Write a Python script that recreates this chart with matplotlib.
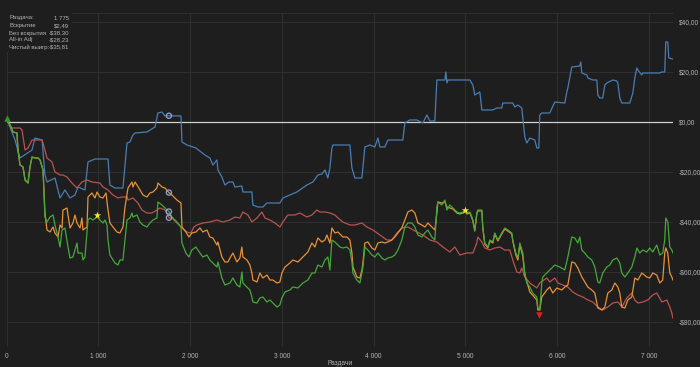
import matplotlib
matplotlib.use("Agg")
import matplotlib.pyplot as plt
from matplotlib.ticker import FixedLocator

plt.rcParams['font.family'] = ['Liberation Sans', 'DejaVu Sans']

# ---------------- data ----------------
blue_x = [0, 16, 93, 147, 278, 310, 387, 419, 441, 528, 583, 637, 692, 746, 779, 855, 888, 964, 1106,
          1127, 1182, 1269, 1291, 1313, 1345, 1378, 1400, 1530, 1618, 1650, 1694, 1727, 1770, 1901, 1912,
          1966, 2064, 2162, 2216, 2249, 2293, 2304, 2347, 2380, 2424, 2467, 2489, 2565, 2576, 2674,
          2685, 2740, 2794, 2838, 2979, 3012, 3088, 3164, 3273, 3339, 3393, 3437, 3470, 3502, 3524,
          3546, 3557, 3742, 3764, 3796, 3873, 3884, 3905, 3960, 4014, 4047, 4069, 4123, 4156, 4319,
          4341, 4395, 4472, 4537, 4581, 4613, 4668, 4690, 4777, 4788, 4799, 4810, 5049, 5082, 5103,
          5158, 5180, 5299, 5343, 5397, 5408, 5517, 5539, 5572, 5615, 5648, 5670, 5703, 5757, 5779,
          5801, 5811, 5833, 5920, 5975, 6084, 6106, 6117, 6160, 6247, 6258, 6269, 6324, 6335, 6389,
          6433, 6444, 6465, 6498, 6520, 6542, 6607, 6651, 6662, 6683, 6705, 6792, 6825, 6847, 6869,
          6880, 6923, 6934, 7119, 7141, 7173, 7184, 7206, 7217, 7262]
blue_y = [0, 0, -7.2, -14.4, -11.2, -6.4, -7.2, -21.2, -24, -22.4, -30.4, -27.2, -30.4, -29.2, -26,
          -27.2, -16, -14.8, -14.8, -25.2, -26.4, -26.4, -17.2, -8.4, -8, -5.2, -4.4, -4, -2, 3.6, 4,
          2.4, 2.49, 2.4, -8, -9.2, -10.4, -13.2, -14.4, -17.2, -15.2, -19.2, -22, -25.2, -24, -24, -26,
          -25.6, -28, -28, -33.2, -34, -34, -32.4, -32.4, -30.4, -29.2, -28, -25.2, -24, -21.2, -20.8,
          -19.2, -22.4, -18.4, -10.4, -9.2, -9.2, -18.4, -22.4, -22.4, -18, -10, -9.2, -10, -6.4, -10,
          -10, -7.2, -7.2, -0.4, 0.8, 0.8, -0.4, 2.8, 0.4, 0.4, 16.8, 16.8, 20, 15.6, 16.8, 16.8, 14.8,
          10.8, 12, 4.8, 4.8, 5.6, 5.6, 7.6, 7.6, 6, 6.8, 5.6, -6, -8.4, -6.4, -7.2, -10.4, -10.4, 2.8,
          3.6, 3.6, 8, 7.6, 12, 13.6, 22, 22.4, 24, 19.6, 18.8, 17.6, 16.8, 16.8, 10.8, 9.6, 9.6, 14.8,
          15.6, 16.8, 16.4, 15.6, 9.6, 7.6, 7.6, 11.6, 17.6, 21.6, 20.8, 18.8, 19.6, 19.6, 20, 20, 32,
          32, 25.6, 25.2]

red_x = [0, 16, 60, 147, 169, 202, 234, 278, 387, 398, 441, 496, 528, 583, 615, 659, 713, 768, 822,
         877, 931, 1018, 1051, 1106, 1160, 1215, 1258, 1313, 1324, 1378, 1432, 1476, 1530, 1585, 1639,
         1672, 1727, 1770, 1803, 1857, 1912, 1966, 2009, 2042, 2075, 2140, 2216, 2293, 2358, 2435,
         2489, 2543, 2576, 2631, 2674, 2729, 2783, 2816, 2870, 2925, 2979, 3012, 3066, 3143, 3197,
         3273, 3328, 3382, 3415, 3470, 3524, 3579, 3600, 3666, 3742, 3796, 3873, 3927, 3993, 4069,
         4145, 4199, 4254, 4308, 4374, 4472, 4537, 4613, 4690, 4755, 4831, 4886, 4940, 5016, 5082,
         5125, 5136, 5180, 5212, 5267, 5321, 5376, 5430, 5485, 5517, 5561, 5594, 5615, 5648, 5703,
         5779, 5811, 5888, 5920, 5975, 6008, 6062, 6117, 6171, 6226, 6280, 6335, 6389, 6444, 6498,
         6553, 6607, 6662, 6705, 6760, 6814, 6847, 6880, 6934, 6988, 7042, 7086, 7141, 7195, 7228,
         7250, 7262]
red_y = [0, 0, -2.4, -2.4, -3.2, -11.2, -10.4, -7.2, -7.2, -8.4, -14.4, -16, -20, -21.2, -21.2, -22,
         -24.4, -26.4, -24, -23.2, -24, -24.4, -26, -27.2, -29.2, -30.4, -30, -30, -31.2, -30.4, -32.4,
         -35.2, -36.4, -36.4, -35.2, -34.4, -35.2, -38.3, -38.4, -40.4, -42.4, -44, -44.4, -42, -41.2,
         -40.4, -40, -39.2, -40, -39.2, -38, -38.4, -36, -37.2, -40, -38.4, -36, -38.4, -39.2, -40.4,
         -42, -40, -37.2, -37.2, -36.4, -38, -37.2, -35.2, -36, -36, -36.4, -37.2, -38, -40, -41.2,
         -41.2, -40.4, -42, -43.2, -45.2, -47.2, -47.2, -44.4, -42.4, -42, -44, -45.2, -47.2, -48,
         -50, -52, -50, -53.2, -52.4, -52.4, -48.4, -46, -48, -50.4, -51.2, -50.4, -50, -51.2, -51.2,
         -55.2, -60, -60.4, -58.4, -62, -64.4, -66.4, -64.4, -62.4, -64, -62.4, -64.4, -65.2, -66,
         -68, -69.2, -70, -71.2, -72, -74, -75.2, -74, -72.4, -72, -74, -70.4, -68.4, -71.2, -72.4,
         -72, -71.2, -69.2, -68.4, -72, -71.2, -74, -76.4, -78.4]

green_x = [0, 16, 38, 71, 114, 125, 147, 180, 202, 234, 256, 278, 310, 343, 365, 398, 419, 441, 474,
           507, 528, 561, 583, 605, 637, 670, 692, 724, 768, 779, 822, 833, 855, 888, 910, 942, 986,
           1018, 1051, 1073, 1095, 1106, 1127, 1182, 1215, 1236, 1269, 1291, 1313, 1345, 1367, 1378,
           1422, 1454, 1487, 1530, 1563, 1596, 1639, 1650, 1694, 1727, 1770, 1803, 1857, 1901, 1912,
           1955, 1988, 2020, 2064, 2108, 2140, 2184, 2216, 2249, 2293, 2304, 2347, 2380, 2435, 2467,
           2511, 2543, 2565, 2576, 2620, 2652, 2674, 2685, 2729, 2761, 2794, 2838, 2870, 2903, 2947,
           2979, 3001, 3034, 3088, 3121, 3175, 3230, 3284, 3328, 3361, 3393, 3437, 3470, 3502, 3524,
           3546, 3579, 3611, 3633, 3666, 3709, 3742, 3764, 3775, 3818, 3851, 3873, 3884, 3905, 3938,
           3982, 4014, 4047, 4091, 4123, 4156, 4199, 4232, 4265, 4308, 4341, 4374, 4417, 4450, 4483,
           4526, 4559, 4592, 4635, 4668, 4690, 4701, 4744, 4777, 4799, 4831, 4864, 4908, 4940, 4973,
           4995, 5016, 5049, 5071, 5082, 5103, 5125, 5136, 5180, 5190, 5212, 5245, 5267, 5299, 5321,
           5354, 5397, 5430, 5463, 5506, 5517, 5550, 5572, 5594, 5626, 5648, 5670, 5703, 5735, 5779,
           5790, 5811, 5833, 5844, 5920, 5975, 6029, 6084, 6117, 6160, 6193, 6226, 6247, 6269, 6302,
           6335, 6378, 6411, 6444, 6465, 6498, 6542, 6575, 6607, 6651, 6683, 6705, 6738, 6771, 6814,
           6847, 6869, 6901, 6934, 6977, 7010, 7042, 7086, 7119, 7151, 7173, 7184, 7206, 7228, 7250,
           7262]
green_y = [0, 0, -1.2, -4, -4.4, -11.2, -17.2, -18, -23.2, -24.4, -18, -14, -14.4, -14.4, -15.2, -19.2,
           -38, -40, -38, -37.2, -41.2, -46, -50, -43.2, -42.4, -50, -54.4, -54, -48.4, -52.4, -52.4,
           -55.2, -54, -39.2, -38.4, -39.2, -38, -39.2, -40.4, -39.2, -41.2, -47.2, -53.2, -56.4,
           -57.2, -55.2, -55.2, -47.2, -39.2, -38.4, -36.4, -38, -37.2, -40, -41.2, -42, -40.4, -39.2,
           -38.4, -32, -33.2, -34.4, -35.81, -38, -40, -42, -48.4, -52.4, -54, -51.2, -50, -52.4, -54,
           -53.2, -55.2, -56.4, -58, -56, -62.4, -65.2, -64.4, -62.4, -65.2, -66, -60, -64.4, -66,
           -67.2, -70, -72, -72.4, -70.4, -70, -72, -71.2, -72.4, -74, -73.2, -70.4, -68, -67.2, -66,
           -66.4, -64.4, -63.2, -60.4, -60.4, -57.2, -58, -55.2, -54, -59.2, -47.2, -48, -49.2, -50,
           -50.4, -50, -51.2, -56, -60.4, -63.2, -64.4, -60.4, -58, -50, -51.2, -53.2, -54, -52.4,
           -54.4, -55.2, -54.4, -54, -53.2, -51.2, -47.2, -42, -40.4, -40.4, -42, -45.2, -46, -44.4,
           -43.2, -46, -47.2, -34, -32, -33.2, -31.2, -35.2, -33.2, -34.4, -36, -36.4, -36, -35.2,
           -36.4, -36, -38, -39.2, -43.2, -36.4, -35.2, -35.2, -42, -48.4, -50, -47.2, -48, -44.4,
           -47.2, -44.4, -42.4, -43.2, -44.4, -47.2, -52.4, -54.4, -48.4, -52.4, -60.4, -64.4, -66,
           -68.4, -70, -74.4, -75.2, -64.4, -62, -59.2, -57.2, -58, -59.2, -54, -46, -46.4, -48.4,
           -46, -51.2, -52.4, -54, -55.2, -58, -64, -64.4, -60.4, -58, -57.2, -55.2, -54.4, -56.4,
           -60.4, -62, -60.4, -58, -54, -50.4, -52.4, -51.2, -52, -50.4, -52, -49.2, -53.2, -52.4,
           -47.2, -38.4, -40, -50, -51.2, -52.4]

orange_x = [0, 16, 38, 71, 114, 125, 147, 180, 202, 234, 256, 278, 310, 343, 365, 398, 419, 441, 474,
            507, 528, 561, 583, 605, 615, 659, 670, 692, 724, 746, 768, 801, 822, 833, 877, 888, 931,
            964, 986, 1018, 1051, 1084, 1106, 1127, 1160, 1204, 1236, 1269, 1291, 1324, 1367, 1378,
            1400, 1422, 1454, 1487, 1530, 1563, 1596, 1639, 1650, 1694, 1727, 1770, 1803, 1857, 1901,
            1912, 1955, 1988, 2020, 2064, 2108, 2140, 2184, 2216, 2249, 2293, 2304, 2347, 2380, 2413,
            2435, 2467, 2511, 2543, 2565, 2576, 2620, 2652, 2674, 2685, 2729, 2761, 2794, 2838, 2870,
            2903, 2947, 2979, 3001, 3034, 3088, 3121, 3175, 3230, 3284, 3328, 3361, 3393, 3437, 3470,
            3491, 3524, 3546, 3579, 3611, 3666, 3709, 3742, 3764, 3775, 3818, 3851, 3873, 3884, 3905,
            3938, 3982, 4014, 4047, 4091, 4123, 4156, 4199, 4232, 4265, 4308, 4341, 4374, 4417, 4450,
            4483, 4526, 4559, 4592, 4635, 4668, 4690, 4701, 4744, 4777, 4799, 4831, 4864, 4908, 4940,
            4973, 4995, 5016, 5049, 5071, 5082, 5103, 5125, 5136, 5180, 5190, 5212, 5245, 5267, 5299,
            5321, 5354, 5397, 5430, 5463, 5506, 5517, 5550, 5572, 5594, 5626, 5648, 5703, 5779, 5790,
            5811, 5833, 5888, 5920, 5953, 5997, 6051, 6084, 6117, 6160, 6193, 6226, 6269, 6302, 6335,
            6378, 6411, 6444, 6487, 6520, 6553, 6596, 6629, 6662, 6683, 6705, 6738, 6771, 6814, 6847,
            6880, 6923, 6977, 7010, 7042, 7086, 7119, 7151, 7173, 7184, 7206, 7228, 7250, 7262]
orange_y = [0, 0, -1.2, -4, -4.4, -11.2, -17.2, -18, -23.2, -24.4, -18, -14, -14.4, -14.4, -15.2,
            -19.2, -36.4, -43.2, -44, -42, -44.4, -46, -41.2, -42.4, -35.2, -34.4, -37.2, -42.4,
            -40.4, -37.2, -40.4, -42.4, -38.4, -43.2, -42, -30, -28.4, -30.4, -28, -30, -30.4, -28.4,
            -35.2, -40.4, -42, -44, -44.4, -42, -34, -26.4, -24, -26, -24, -25.2, -27.2, -29.2, -30,
            -28.4, -28, -26.4, -24.4, -26, -26.4, -28.23, -29.2, -31.2, -32.4, -42, -44, -46, -44.4,
            -44, -42.4, -44, -43.2, -46, -46.4, -49.2, -48, -54, -56, -56, -54.4, -52.4, -56, -54.4,
            -50, -54, -55.2, -57.2, -60.4, -63.2, -64, -60.4, -62.4, -61.2, -63.2, -63.2, -64.4, -64,
            -60.4, -58, -56.4, -55.2, -56, -54, -52, -48.4, -50, -46.4, -48, -47.2, -45.2, -48.4,
            -42.4, -44.4, -44, -46, -46, -47.2, -52.4, -58, -62, -62.4, -59.2, -56.4, -48.4, -48,
            -50.4, -51.2, -48.4, -48, -48.4, -48, -47.2, -46, -44.4, -42.4, -39.2, -36, -35.2, -36.4,
            -40.4, -41.2, -42, -40.4, -42, -43.2, -36.4, -32, -32.4, -32, -34, -34.4, -34.8, -36.4,
            -36.8, -36.4, -35.6, -36.8, -36.4, -38.4, -39.6, -43.6, -36.8, -35.6, -35.6, -42.4, -48.8,
            -50.4, -47.6, -48.4, -44.8, -47.6, -44.8, -42.8, -43.6, -44.8, -47.6, -53.2, -55.2, -49.2,
            -53.6, -61.2, -68, -71.2, -75.2, -75.2, -70, -67.2, -66, -68.4, -66.4, -67.2, -66, -65.2,
            -56, -56.4, -58.4, -62, -64, -66, -67.2, -68.4, -74.4, -75.2, -74, -68.4, -67.2, -64.4,
            -66, -68.4, -74, -74.4, -71.2, -70, -62.4, -63.2, -60.4, -62, -62.4, -60.4, -61.2, -64.4,
            -63.2, -52.4, -50.4, -52.4, -60.4, -62, -63.2]

x_ticks = [0, 1000, 2000, 3000, 4000, 5000, 6000, 7000]
x_tick_labels = ["0", "1 000", "2 000", "3 000", "4 000", "5 000", "6 000", "7 000"]
y_ticks = [40, 20, 0, -20, -40, -60, -80]
y_tick_labels = ["$40,00", "$20,00", "$0,00", "-$20,00", "-$40,00", "-$60,00", "-$80,00"]

info_labels = ["Раздача:", "Вскрытие", "Без вскрытия", "All-in Adj", "Чистый выигр:"]
info_values = ["1 775", "$2,49", "-$38,30", "-$28,23", "-$35,81"]

hover_hand = 1770
hover_values = [2.49, -28.23, -35.81, -38.30]
star_x = [986, 4995]
star_y = [-37.2, -35.2]
min_mark = (5800, -77.2)
start_mark = (10, 1.6)

# ---------------- style ----------------
BG = "#1e1e1e"
GRID = "#2f2f2f"
TXT = "#b4b4b4"
C_BLUE = "#4a7db4"
C_RED = "#b85450"
C_ORANGE = "#e8913a"
C_GREEN = "#46a83a"

fig = plt.figure(figsize=(7.0, 3.67), dpi=100, facecolor=BG)
ax = fig.add_axes([0.0093, 0.0545, 0.952, 0.9101])
ax.set_facecolor(BG)

ax.set_xlim(0, 7262)
ax.set_ylim(-90, 43.6)

for s in ax.spines.values():
    s.set_visible(False)

ax.xaxis.set_major_locator(FixedLocator(x_ticks))
ax.set_xticklabels(x_tick_labels)
ax.yaxis.set_major_locator(FixedLocator(y_ticks))
ax.set_yticklabels(y_tick_labels)
ax.yaxis.tick_right()
ax.tick_params(axis='both', length=0, labelsize=4.8, colors=TXT)
ax.tick_params(axis='y', pad=4)
ax.tick_params(axis='x', pad=4)
ax.grid(True, color=GRID, linewidth=0.8)
ax.axvline(7262, color=GRID, linewidth=0.8)
ax.axhline(43.6, color=GRID, linewidth=0.8)
ax.set_axisbelow(True)

ax.set_xlabel("Раздачи", color=TXT, fontsize=4.8, labelpad=0.5)

ax.axhline(0, color="#d0d0d0", linewidth=0.9, zorder=2)

LW = 0.9
ax.plot(blue_x, blue_y, color=C_BLUE, linewidth=LW, zorder=3)
ax.plot(red_x, red_y, color=C_RED, linewidth=LW, zorder=3)
ax.plot(orange_x, orange_y, color=C_ORANGE, linewidth=LW, zorder=4)
ax.plot(green_x, green_y, color=C_GREEN, linewidth=LW, zorder=5)

ax.scatter([hover_hand] * len(hover_values), hover_values, s=14, facecolors='none',
           edgecolors="#8fa6d8", linewidths=0.9, zorder=7)
ax.scatter(star_x, star_y, marker='*', s=32, color="#f5e52a", zorder=8, linewidths=0)
ax.scatter([min_mark[0]], [min_mark[1]], marker='v', s=22, color="#e0201a", zorder=8, linewidths=0)
ax.scatter([start_mark[0]], [start_mark[1]], marker='^', s=22, color="#2e9a2e", zorder=8,
           linewidths=0, clip_on=False)

# info box (covers the grid in the upper-left corner)
fig.patches.append(plt.Rectangle((0, 1 - 52 / 367), 72 / 700, 52 / 367, transform=fig.transFigure,
                                 facecolor=BG, edgecolor='none', zorder=10))
ys = [18, 26, 33, 40, 47]
for lab, val, yp in zip(info_labels, info_values, ys):
    fig.text(9 / 700, 1 - yp / 367, lab, color=TXT, fontsize=4.3, va='center', ha='left', zorder=11)
    fig.text(69 / 700, 1 - yp / 367, val, color=TXT, fontsize=4.3, va='center', ha='right', zorder=11)

fig.savefig("out.png", dpi=100, facecolor=BG)
